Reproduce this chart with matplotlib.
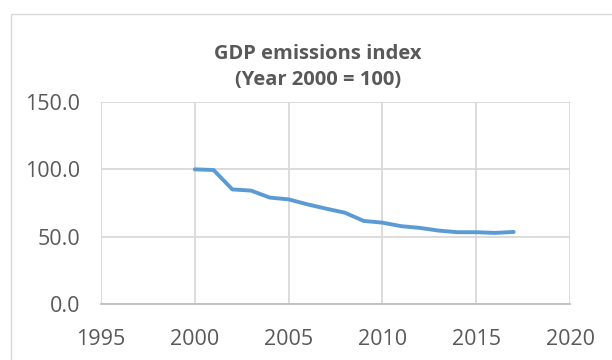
import matplotlib
matplotlib.use('Agg')
import matplotlib.pyplot as plt
from matplotlib.patches import Rectangle

years = [2000, 2001, 2002, 2003, 2004, 2005, 2006, 2007, 2008,
         2009, 2010, 2011, 2012, 2013, 2014, 2015, 2016, 2017]
index = [100.0, 99.5, 85.1, 84.2, 79.0, 77.7, 74.0, 70.8, 67.8,
         61.7, 60.4, 57.8, 56.5, 54.5, 53.3, 53.3, 52.8, 53.5]
x_ticks = [1995, 2000, 2005, 2010, 2015, 2020]
y_ticks = [0, 50, 100, 150]

plt.rcParams['font.family'] = ['Open Sans', 'DejaVu Sans']

fig = plt.figure(figsize=(6.12, 3.6), dpi=100)
fig.patches.append(Rectangle((11 / 612, -0.1), 1.1, 1 - 14 / 360 + 0.1,
                             transform=fig.transFigure, fill=False,
                             edgecolor='#d9d9d9', linewidth=1))
ax = fig.add_axes([101 / 612, 1 - 304 / 360, 469 / 612, 202 / 360])

ax.plot(years, index, color='#5b9bd5', linewidth=2.8, solid_capstyle='round')

ax.set_xlim(1995, 2020)
ax.set_ylim(0, 150)
ax.set_xticks(x_ticks)
ax.set_yticks(y_ticks)
ax.set_yticklabels([f'{v:.1f}' for v in y_ticks])
ax.grid(True, color='#d9d9d9', linewidth=1.3)
ax.set_axisbelow(True)
for side in ['top', 'right', 'left']:
    ax.spines[side].set_visible(False)
ax.spines['bottom'].set_color('#bfbfbf')
ax.spines['bottom'].set_linewidth(1.3)
ax.tick_params(length=0, labelsize=15.5, colors='#595959')
ax.tick_params(axis='y', pad=15)
ax.tick_params(axis='x', pad=18)

fig.text(318 / 612, 1 - 67 / 360, 'GDP emissions index\n(Year 2000 = 100)',
         ha='center', va='center', fontsize=14.5, fontweight='bold',
         color='#595959', linespacing=1.38)

fig.savefig('out.png', dpi=100)
